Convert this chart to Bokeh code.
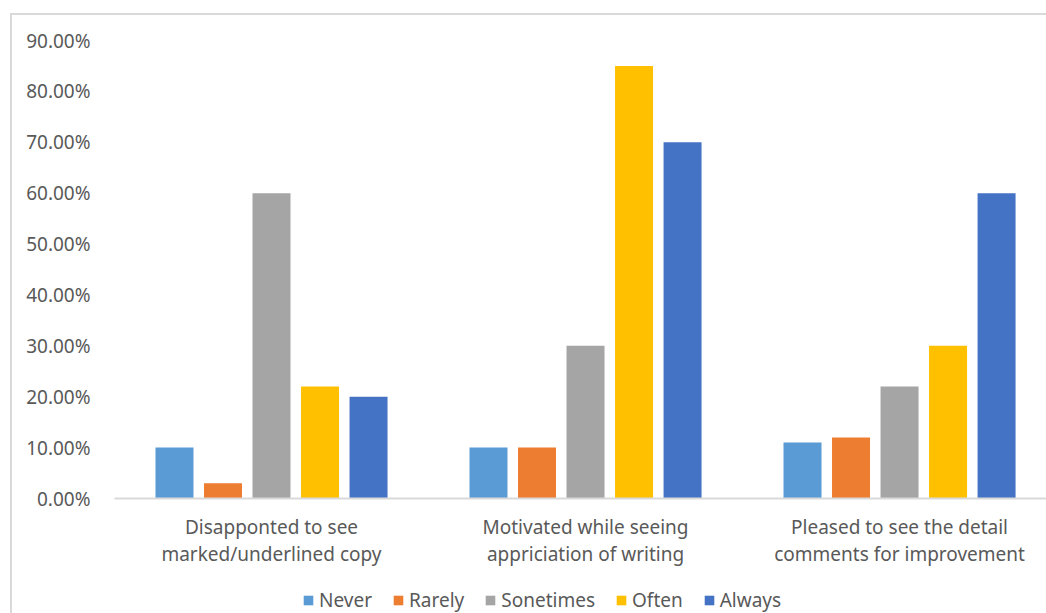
from bokeh.plotting import figure
from bokeh.layouts import column
from bokeh.models import (ColumnDataSource, FixedTicker, NumeralTickFormatter,
                          Legend, LegendItem, Range1d)
from bokeh.transform import dodge
from bokeh.embed import file_html
from bokeh.resources import INLINE

# ---- data ----
categories = ["Disapponted to see\nmarked/underlined copy",
              "Motivated while seeing\nappriciation of writing",
              "Pleased to see the detail\ncomments for improvement"]
series = ["Never", "Rarely", "Sonetimes", "Often", "Always"]
never = [0.10, 0.10, 0.11]
rarely = [0.03, 0.10, 0.12]
sometimes = [0.60, 0.30, 0.22]
often = [0.22, 0.85, 0.30]
always = [0.20, 0.70, 0.60]
y_ticks = [0.0, 0.1, 0.2, 0.3, 0.4, 0.5, 0.6, 0.7, 0.8, 0.9]
colors = ["#5B9BD5", "#ED7D31", "#A5A5A5", "#FFC000", "#4472C4"]

FONT = "Noto Sans"
TXT = "#595959"

xpos = [i + 0.5 for i in range(len(categories))]
values = [never, rarely, sometimes, often, always]
data = {"x": xpos}
for s, v in zip(series, values):
    data[s] = v
src = ColumnDataSource(data)

p = figure(width=1034, height=555,
           x_range=Range1d(0, 2.968), y_range=Range1d(0, 0.9),
           output_backend="svg", toolbar_location=None,
           min_border_left=102, min_border_right=0,
           min_border_top=25, min_border_bottom=72,
           outline_line_color=None)

step = 0.1545
bw = 0.121
for k, (s, c) in enumerate(zip(series, colors)):
    p.vbar(x=dodge("x", (k - 2) * step, range=p.x_range), top=s,
           width=bw, source=src, fill_color=c, line_color=None)

p.xgrid.visible = False
p.ygrid.visible = False

# y axis
p.yaxis.ticker = FixedTicker(ticks=y_ticks)
p.yaxis.formatter = NumeralTickFormatter(format="0.00%")
p.yaxis.axis_line_color = None
p.yaxis.major_tick_line_color = None
p.yaxis.minor_tick_line_color = None
p.yaxis.major_label_text_font = FONT
p.yaxis.major_label_text_font_size = "19px"
p.yaxis.major_label_text_color = TXT
p.yaxis.major_label_standoff = 18

# x axis
p.xaxis.ticker = FixedTicker(ticks=xpos)
p.xaxis.major_label_overrides = {x: c for x, c in zip(xpos, categories)}
p.xaxis.axis_line_color = "#d9d9d9"
p.xaxis.axis_line_width = 2
p.xaxis.major_tick_line_color = None
p.xaxis.minor_tick_line_color = None
p.xaxis.major_label_text_font = FONT
p.xaxis.major_label_text_font_size = "19px"
p.xaxis.major_label_text_color = TXT
p.xaxis.major_label_text_line_height = 1.04
p.xaxis.major_label_standoff = 9

# legend strip below the chart (zero-height proxy bars carry the swatches)
lf = figure(width=1034, height=43, x_range=Range1d(0, 1), y_range=Range1d(0, 1),
            output_backend="svg", toolbar_location=None,
            min_border_left=0, min_border_right=0, min_border_top=0,
            min_border_bottom=0, outline_line_color=None)
lf.axis.visible = False
lf.grid.visible = False
proxy = ColumnDataSource(dict(x=[0.5], top=[0.0], bottom=[0.0]))
items = []
for s, c in zip(series, colors):
    r = lf.vbar(x="x", top="top", bottom="bottom", width=0.01, source=proxy,
                fill_color=c, line_color=None)
    items.append(LegendItem(label=s, renderers=[r]))
legend = Legend(items=items, orientation="horizontal", location=(188, 0),
                border_line_color=None, background_fill_alpha=0,
                label_text_font=FONT, label_text_font_size="19px",
                label_text_color=TXT, glyph_width=12, glyph_height=12,
                label_standoff=5, spacing=20, padding=0, margin=0)
lf.add_layout(legend)

layout = column(p, lf, spacing=0)
layout.styles = {"margin-left": "10px", "margin-top": "13px",
                 "border-left": "2px solid #d9d9d9",
                 "border-top": "2px solid #d9d9d9"}

open("out.html", "w").write(file_html(layout, INLINE))
